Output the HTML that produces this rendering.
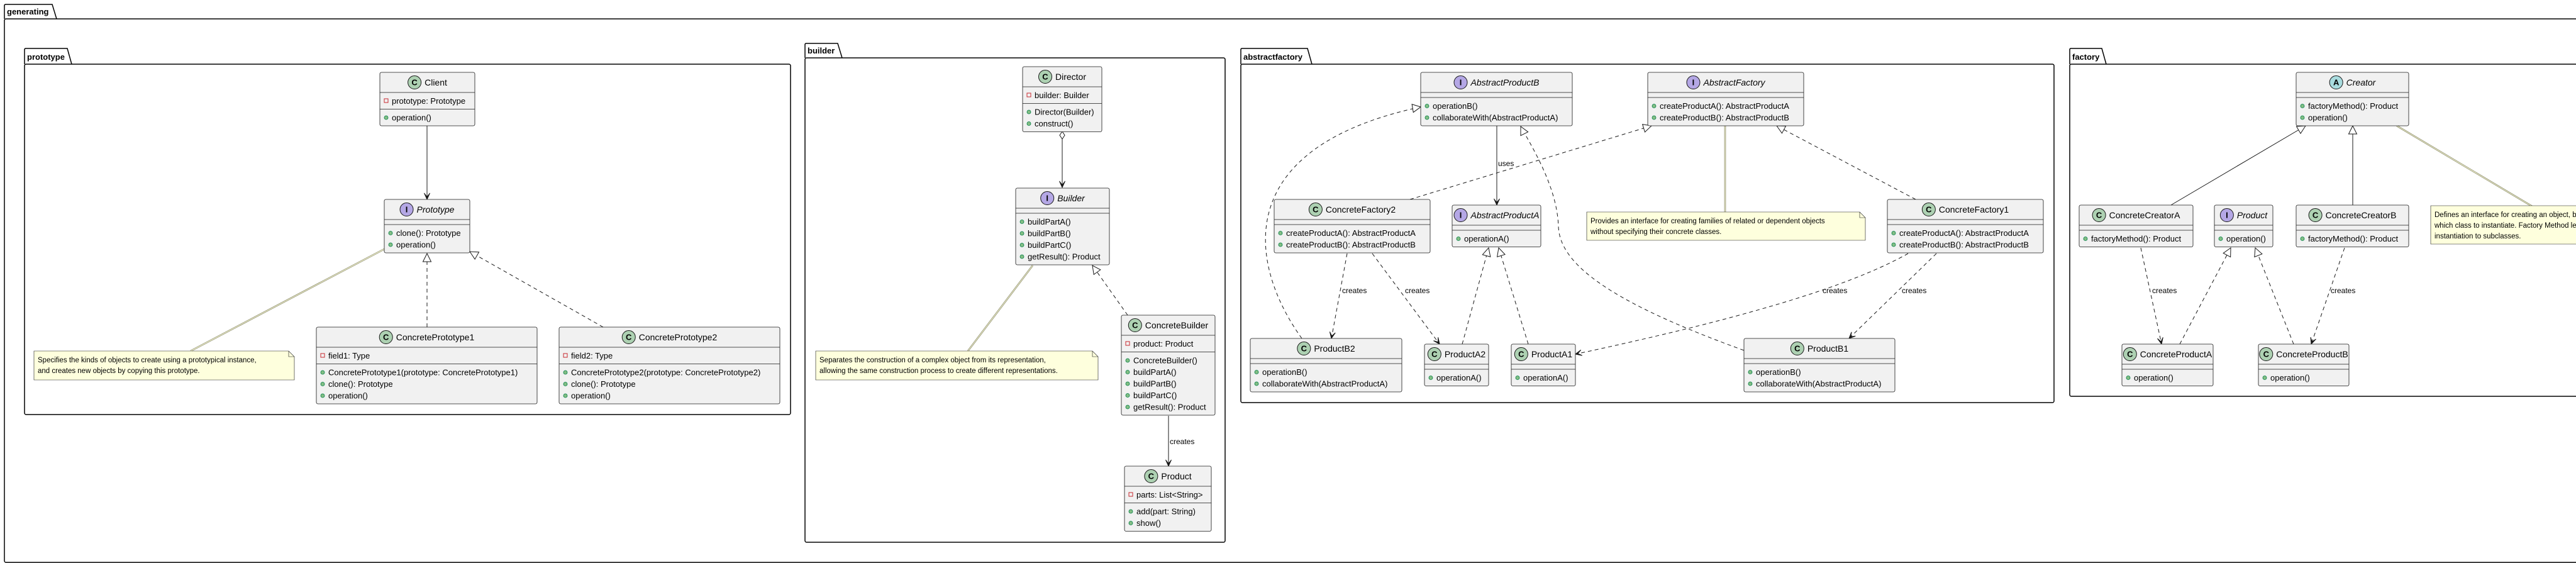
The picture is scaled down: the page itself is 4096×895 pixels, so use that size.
<!DOCTYPE html>
<html><head><meta charset="utf-8">
<style>
html,body{margin:0;padding:0;background:#fff;width:4096px;height:895px;overflow:hidden}
svg{display:block}
text{font-family:"Liberation Sans",Arial,sans-serif;fill:#000}
</style></head><body>
<svg id="s" width="4096" height="895" viewBox="0 0 4096 895" xmlns="http://www.w3.org/2000/svg"></svg>
<script>
const NS="http://www.w3.org/2000/svg";
const S=document.getElementById('s');
function el(t,a,txt){const e=document.createElementNS(NS,t);for(const k in a)e.setAttribute(k,a[k]);if(txt!==undefined)e.textContent=txt;S.appendChild(e);return e;}
function pkg(x,y,tabR,tabH,name,fr,fb){
  el('path',{d:`M${x},${y+tabH} V${y+2} Q${x},${y} ${x+2},${y} H${tabR-7} L${tabR},${y+tabH}`,fill:'none',stroke:'#000','stroke-width':1.5});
  el('rect',{x:x,y:y+tabH,width:fr-x,height:fb-y-tabH,rx:2.5,fill:'none',stroke:'#000','stroke-width':1.5});
  el('text',{x:x+4,y:y+tabH-7,'font-size':13,'font-weight':'bold'},name);
}
function cls(x,y,w,kind,name,attrs,meths,ital){
  const A=attrs.length?8+18.5*attrs.length:8, M=meths.length?8+18.5*meths.length:8;
  const h=32+A+M;
  el('rect',{x:x,y:y,width:w,height:h,rx:2.5,fill:'#F1F1F1',stroke:'#181818','stroke-width':0.8});
  el('line',{x1:x,y1:y+32,x2:x+w,y2:y+32,stroke:'#181818','stroke-width':0.8});
  el('line',{x1:x,y1:y+32+A,x2:x+w,y2:y+32+A,stroke:'#181818','stroke-width':0.8});
  const t=el('text',{x:0,y:y+21,'font-size':14,'font-style':ital?'italic':'normal'},name);
  const tw=t.getComputedTextLength();
  const total=22+5+tw, st=x+(w-total)/2;
  t.setAttribute('x',st+27);
  const col={C:'#ADD1B2',I:'#B4A7E5',A:'#A9DCDF'}[kind];
  el('circle',{cx:st+11,cy:y+16,r:10.5,fill:col,stroke:'#181818','stroke-width':1});
  el('text',{x:st+11,y:y+20.5,'font-size':13,'font-weight':'bold','text-anchor':'middle'},kind);
  attrs.forEach((a,i)=>{const b=y+32+18+i*18.5;
    el('rect',{x:x+7,y:b-8,width:6,height:6,fill:'none',stroke:'#C82930','stroke-width':1});
    el('text',{x:x+19,y:b,'font-size':13},a);});
  meths.forEach((m,i)=>{const b=y+32+A+18+i*18.5;
    el('circle',{cx:x+10,cy:b-4.5,r:3,fill:'#84BE84',stroke:'#038048','stroke-width':0.8});
    el('text',{x:x+19,y:b,'font-size':13},m);});
}
function note(x,y,w,h,lines){
  el('path',{d:`M${x},${y} H${x+w-9} L${x+w},${y+9} V${y+h} H${x} Z`,fill:'#FEFFDD',stroke:'#181818','stroke-width':0.6});
  el('path',{d:`M${x+w-9},${y} V${y+9} H${x+w}`,fill:'none',stroke:'#181818','stroke-width':0.6});
  lines.forEach((l,i)=>el('text',{x:x+6,y:y+18+i*17,'font-size':11.5},l));
}
function nlink(x1,y1,x2,y2){
  el('line',{x1,y1,x2,y2,stroke:'#8a8a6a','stroke-width':2.6});
  el('line',{x1,y1,x2,y2,stroke:'#FEFFDD','stroke-width':1});
}
function head(tx,ty,fx,fy,type){
  let dx=fx-tx,dy=fy-ty;const L=Math.hypot(dx,dy);dx/=L;dy/=L;const px=-dy,py=dx;
  if(type==='tri'){const l=13,hw=6.5;
    el('path',{d:`M${tx},${ty} L${tx+dx*l+px*hw},${ty+dy*l+py*hw} L${tx+dx*l-px*hw},${ty+dy*l-py*hw} Z`,fill:'#fff',stroke:'#181818','stroke-width':1});}
  else if(type==='arr'){const l=10,hw=4.5;
    el('path',{d:`M${tx},${ty} L${tx+dx*l+px*hw},${ty+dy*l+py*hw} L${tx+dx*4},${ty+dy*4} L${tx+dx*l-px*hw},${ty+dy*l-py*hw} Z`,fill:'#181818',stroke:'#181818','stroke-width':1});}
  else if(type==='dia'){const l=6,hw=4;
    el('path',{d:`M${tx},${ty} L${tx+dx*l+px*hw},${ty+dy*l+py*hw} L${tx+dx*12},${ty+dy*12} L${tx+dx*l-px*hw},${ty+dy*l-py*hw} Z`,fill:'#fff',stroke:'#181818','stroke-width':1});}
}
function edge(x1,y1,x2,y2,dash,type,label,lx,ly){
  el('line',{x1,y1,x2,y2,stroke:'#181818','stroke-width':1,'stroke-dasharray':dash?'6,5':'none'});
  if(type)head(x2,y2,x1,y1,type);
  if(label)el('text',{x:lx,y:ly,'font-size':12},label);
}
function curve(d,tx,ty,fx,fy,type,label,lx,ly){
  el('path',{d:d,fill:'none',stroke:'#181818','stroke-width':1,'stroke-dasharray':'6,5'});
  head(tx,ty,fx,fy,type);
  if(label)el('text',{x:lx,y:ly,'font-size':12},label);
}

// packages
pkg(7,7,90,23,'generating',4200,894);
pkg(39,77,114,25,'prototype',1257,659);
pkg(1280,69,1339,23,'builder',1948,862);
pkg(1973,77,2086,25,'abstractfactory',3266,640);
pkg(3291,77,3349,25,'factory',4200,630);

// prototype edges
edge(679,200,679,317,false,'arr');
nlink(611,396,303,558);
edge(679,520,679,403,true,'tri');
edge(959,520,747,400,true,'tri');
// builder edges
edge(1689,221,1689,298,false,'arr');
head(1689,209,1689,260,'dia');
nlink(1642,422,1539,558);
edge(1793,501,1737,422,true,'tri');
edge(1858,661,1858,741,false,'arr','creates',1860,706);
// abstractfactory edges
edge(2380,200,2380,326,false,'arr','uses',2382,264);
curve('M2070,538 C1985,420 1955,235 2259,170',2259,170,2200,180,'tri');
curve('M2773,557 C2560,480 2480,420 2478,360 C2476,300 2440,240 2418,201',2418,201,2430,225,'tri');
edge(2242,317,2626,200,true,'tri');
edge(3046,317,2825,200,true,'tri');
nlink(2743,200,2743,337);
edge(2142,403,2117,538,true,'arr','creates',2134,466);
edge(2182,403,2289,547,true,'arr','creates',2234,466);
edge(2325,547,2367,394,true,'tri');
edge(2430,547,2383,394,true,'tri');
curve('M3034,403 C2950,450 2800,500 2505,563',2505,563,2560,550,'arr','creates',2898,466);
edge(3079,403,2940,538,true,'arr','creates',3024,466);
// factory edges
edge(3452,326,3666,200,false,'tri');
edge(3741,326,3741,200,false,'tri');
nlink(3811,200,4028,329);
edge(3404,394,3437,547,true,'arr','creates',3422,466);
edge(3466,547,3547,394,true,'tri');
edge(3647,547,3586,394,true,'tri');
edge(3728,394,3675,547,true,'arr','creates',3706,466);

// notes
note(54,558,414,46,['Specifies the kinds of objects to create using a prototypical instance,','and creates new objects by copying this prototype.']);
note(1297,558,449,46,['Separates the construction of a complex object from its representation,','allowing the same construction process to create different representations.']);
note(2523,337,443,45,['Provides an interface for creating families of related or dependent objects','without specifying their concrete classes.']);
note(3865,327,460,61,['Defines an interface for creating an object, but let subclasses decide','which class to instantiate. Factory Method lets a class defer','instantiation to subclasses.']);

// classes
cls(604,115,151,'C','Client',['prototype: Prototype'],['operation()']);
cls(611,317,136,'I','Prototype',[],['clone(): Prototype','operation()'],true);
cls(503,520,351,'C','ConcretePrototype1',['field1: Type'],['ConcretePrototype1(prototype: ConcretePrototype1)','clone(): Prototype','operation()']);
cls(889,520,351,'C','ConcretePrototype2',['field2: Type'],['ConcretePrototype2(prototype: ConcretePrototype2)','clone(): Prototype','operation()']);
cls(1626,106,126,'C','Director',['builder: Builder'],['Director(Builder)','construct()']);
cls(1615,299,149,'I','Builder',[],['buildPartA()','buildPartB()','buildPartC()','getResult(): Product'],true);
cls(1783,501,149,'C','ConcreteBuilder',['product: Product'],['ConcreteBuilder()','buildPartA()','buildPartB()','buildPartC()','getResult(): Product']);
cls(1788,741,138,'C','Product',['parts: List<String>'],['add(part: String)','show()']);
cls(2259,115,241,'I','AbstractProductB',[],['operationB()','collaborateWith(AbstractProductA)'],true);
cls(2620,115,248,'I','AbstractFactory',[],['createProductA(): AbstractProductA','createProductB(): AbstractProductB'],true);
cls(2026,317,248,'C','ConcreteFactory2',[],['createProductA(): AbstractProductA','createProductB(): AbstractProductB']);
cls(2309,326,141,'I','AbstractProductA',[],['operationA()'],true);
cls(3001,317,248,'C','ConcreteFactory1',[],['createProductA(): AbstractProductA','createProductB(): AbstractProductB']);
cls(1988,538,241,'C','ProductB2',[],['operationB()','collaborateWith(AbstractProductA)']);
cls(2265,547,102,'C','ProductA2',[],['operationA()']);
cls(2403,547,102,'C','ProductA1',[],['operationA()']);
cls(2773,538,240,'C','ProductB1',[],['operationB()','collaborateWith(AbstractProductA)']);
cls(3651,115,179,'A','Creator',[],['factoryMethod(): Product','operation()'],true);
cls(3306,326,181,'C','ConcreteCreatorA',[],['factoryMethod(): Product']);
cls(3521,326,93,'I','Product',[],['operation()'],true);
cls(3651,326,179,'C','ConcreteCreatorB',[],['factoryMethod(): Product']);
cls(3374,547,145,'C','ConcreteProductA',[],['operation()']);
cls(3591,547,144,'C','ConcreteProductB',[],['operation()']);
</script>
</body></html>
